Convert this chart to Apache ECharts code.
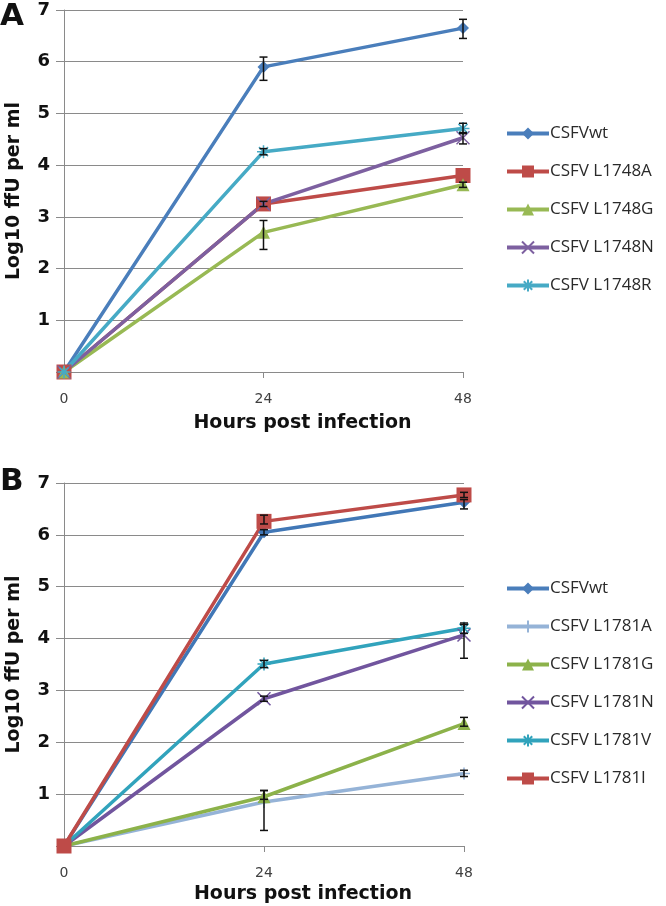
<!DOCTYPE html>
<html><head><meta charset="utf-8">
<script src="https://cdn.jsdelivr.net/npm/echarts@6/dist/echarts.min.js"></script>
<style>html,body{margin:0;padding:0;background:#fff}#c{width:666px;height:906px}</style>
</head><body><div id="c"></div>
<script>
// ---- data ----
const hours = [0, 24, 48];
const yTicks = [1, 2, 3, 4, 5, 6, 7];
// Panel A
const namesA = ['CSFVwt', 'CSFV L1748A', 'CSFV L1748G', 'CSFV L1748N', 'CSFV L1748R'];
const wtA    = [0, 5.9, 6.65];
const l1748A = [0, 3.25, 3.8];
const l1748G = [0, 2.7, 3.62];
const l1748N = [0, 3.25, 4.53];
const l1748R = [0, 4.26, 4.71];
const errUpA = [[0, 0.19, 0.17], [0, 0, 0], [0, 0.23, 0.05], [0, 0.05, 0.1], [0, 0.06, 0.1]];
const errDnA = [[0, 0.26, 0.2], [0, 0, 0], [0, 0.33, 0.05], [0, 0.05, 0.12], [0, 0.06, 0.1]];
// Panel B
const namesB = ['CSFVwt', 'CSFV L1781A', 'CSFV L1781G', 'CSFV L1781N', 'CSFV L1781V', 'CSFV L1781I'];
const wtB    = [0, 6.05, 6.63];
const l1781A = [0, 0.85, 1.4];
const l1781G = [0, 0.95, 2.36];
const l1781N = [0, 2.84, 4.07];
const l1781V = [0, 3.51, 4.2];
const l1781I = [0, 6.26, 6.77];
const errUpB = [[0, 0.05, 0.05], [0, 0.22, 0.06], [0, 0.12, 0.12], [0, 0.05, 0.2], [0, 0.07, 0.1], [0, 0.12, 0.05]];
const errDnB = [[0, 0.05, 0.13], [0, 0.55, 0.06], [0, 0.05, 0.05], [0, 0.05, 0.45], [0, 0.07, 0.1], [0, 0.05, 0.05]];

// ---- styling ----
const colorsA = ['#4a7ebb', '#be4b48', '#98b954', '#7d60a0', '#46aac5'];
const colorsB = ['#4177b6', '#95b3d7', '#8cb24a', '#71559e', '#31a3bc', '#be4b48'];
const SYM = {
  diamond: 'diamond', rect: 'rect', triangle: 'triangle',
  cross: 'path://M0,0L10,10M10,0L0,10',
  star: 'path://M0,5L10,5M5,0L5,10M1.5,1.5L8.5,8.5M8.5,1.5L1.5,8.5',
  plus: 'path://M5,0L5,10M0,5L10,5'
};
const symA = ['diamond', 'rect', 'triangle', 'cross', 'star'];
const symB = ['diamond', 'plus', 'triangle', 'cross', 'star', 'rect'];
const sizeOf = {diamond: 12, rect: 15, triangle: 13, cross: 13, star: 13, plus: 12};

const dataA = [wtA, l1748A, l1748G, l1748N, l1748R];
const dataB = [wtB, l1781A, l1781G, l1781N, l1781V, l1781I];

function lineSeries(name, vals, color, sym, gi) {
  const stroke = (sym === 'cross' || sym === 'star' || sym === 'plus');
  return {
    type: 'line', name: name, xAxisIndex: gi, yAxisIndex: gi,
    data: hours.map((h, i) => [h, vals[i]]),
    symbol: SYM[sym], symbolSize: sizeOf[sym], showAllSymbol: true,
    lineStyle: {color: color, width: 3.5},
    itemStyle: {color: color, borderColor: color, borderWidth: stroke ? 1.5 : 0},
    emphasis: {disabled: true}, animation: false, z: 3
  };
}
function errSeries(allVals, ups, dns, gi) {
  const d = [];
  allVals.forEach((vals, s) => hours.forEach((h, i) => {
    if (ups[s][i] > 0 || dns[s][i] > 0) d.push([h, vals[i] - dns[s][i], vals[i] + ups[s][i]]);
  }));
  return {
    type: 'custom', xAxisIndex: gi, yAxisIndex: gi, data: d, z: 5, animation: false,
    renderItem: function (params, api) {
      const top = api.coord([api.value(0), api.value(2)]);
      const bot = api.coord([api.value(0), api.value(1)]);
      const st = {stroke: '#111', lineWidth: 1.5};
      return {type: 'group', children: [
        {type: 'line', shape: {x1: top[0], y1: top[1], x2: bot[0], y2: bot[1]}, style: st},
        {type: 'line', shape: {x1: top[0] - 4, y1: top[1], x2: top[0] + 4, y2: top[1]}, style: st},
        {type: 'line', shape: {x1: bot[0] - 4, y1: bot[1], x2: bot[0] + 4, y2: bot[1]}, style: st}
      ]};
    }
  };
}

const gridColor = '#8a8a8a';
function xAx(gi, gap) {
  return {
    type: 'value', gridIndex: gi, min: 0, max: 48, interval: 24,
    name: 'Hours post infection', nameLocation: 'middle', nameGap: gap,
    nameTextStyle: {fontFamily: 'DejaVu Sans', fontWeight: 'bold', fontSize: 19, color: '#111', padding: [0, 0, 0, 78]},
    axisLine: {show: true, lineStyle: {color: gridColor, width: 1}},
    axisTick: {show: true, length: 6, lineStyle: {color: gridColor}},
    axisLabel: {margin: 20, fontFamily: 'DejaVu Sans', fontSize: 14, color: '#404040'},
    splitLine: {show: false}
  };
}
function yAx(gi) {
  return {
    type: 'value', gridIndex: gi, min: 0, max: 7, interval: 1,
    name: 'Log10 ffU per ml', nameLocation: 'middle', nameGap: 40, nameRotate: 90,
    nameTextStyle: {fontFamily: 'DejaVu Sans', fontWeight: 'bold', fontSize: 19, color: '#111'},
    axisLine: {show: true, lineStyle: {color: gridColor, width: 1}},
    axisTick: {show: true, length: 8, lineStyle: {color: gridColor}},
    axisLabel: {margin: 14, fontFamily: 'DejaVu Sans', fontWeight: 'bold', fontSize: 18, color: '#111',
      formatter: v => (yTicks.indexOf(v) >= 0 ? String(v) : '')},
    splitLine: {show: true, lineStyle: {color: gridColor, width: 1}}
  };
}

const series = [];
dataA.forEach((v, i) => series.push(lineSeries(namesA[i], v, colorsA[i], symA[i], 0)));
dataB.forEach((v, i) => series.push(lineSeries(namesB[i], v, colorsB[i], symB[i], 1)));
series.push(errSeries(dataA, errUpA, errDnA, 0));
series.push(errSeries(dataB, errUpB, errDnB, 1));

const legendCommon = {
  orient: 'vertical', left: 505, itemWidth: 42, itemHeight: 15, itemGap: 21, padding: 0,
  lineStyle: {width: 4},
  textStyle: {fontFamily: 'Open Sans', fontSize: 17, color: '#2a2a2a', padding: [0, 0, 0, -4]},
  selectedMode: false
};

const chart = echarts.init(document.getElementById('c'), null, {renderer: 'canvas'});
chart.setOption({
  backgroundColor: '#fff',
  animation: false,
  grid: [
    {left: 64, top: 10, width: 399, height: 362, outerBoundsMode: 'none', containLabel: false},
    {left: 64, top: 483, width: 400, height: 363, outerBoundsMode: 'none', containLabel: false}
  ],
  xAxis: [xAx(0, 42), xAx(1, 39)],
  yAxis: [yAx(0), yAx(1)],
  legend: [
    Object.assign({top: 125, data: namesA}, legendCommon),
    Object.assign({top: 580, data: namesB}, legendCommon)
  ],
  graphic: [
    {type: 'text', left: 0, top: 1, style: {text: 'A', fontFamily: 'DejaVu Sans', fontWeight: 'bold', fontSize: 31, fill: '#111'}},
    {type: 'text', left: 0, top: 466, style: {text: 'B', fontFamily: 'DejaVu Sans', fontWeight: 'bold', fontSize: 31, fill: '#111'}}
  ],
  series: series
});
</script>
</body></html>
